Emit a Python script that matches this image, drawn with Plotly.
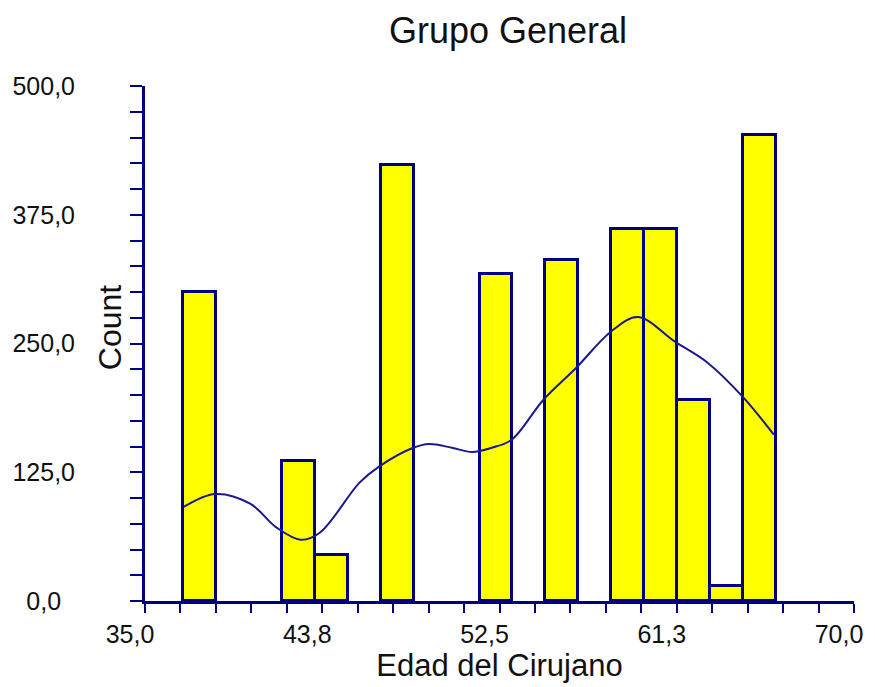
import plotly.graph_objects as go

# ---- data ----
bin_start = 36.9
bin_width = 1.624
counts = [300, 0, 0, 136, 45, 0, 423, 0, 0, 317, 0, 331, 0, 361, 361, 195, 15, 452]

curve_x = [36.91, 38.47, 40.19, 41.50, 42.69, 43.63, 45.59, 46.57, 48.21, 49.03,
           50.15, 51.15, 52.12, 53.10, 54.67, 56.29, 58.01, 59.34, 61.14, 62.77,
           64.49, 66.04]
curve_y = [91.3, 103.9, 94.5, 71.2, 59.5, 66.3, 114.9, 130.7, 148.5, 152.4,
           148.8, 144.7, 148.8, 156.6, 195.4, 226.5, 261.7, 275.7, 252.0, 231.4,
           198.6, 161.5]

x_tickvals = [35.0, 43.75, 52.5, 61.25, 70.0]
x_ticktext = ["35,0", "43,8", "52,5", "61,3", "70,0"]
y_tickvals = [0, 125, 250, 375, 500]
y_ticktext = ["0,0&nbsp;&nbsp;", "125,0", "250,0", "375,0", "500,0"]

NAVY = "#000080"
FONT = "Liberation Sans, Arial, sans-serif"
TXT = "#111111"

bar_x = [bin_start + (i + 0.5) * bin_width for i, c in enumerate(counts) if c > 0]
bar_y = [c for c in counts if c > 0]

fig = go.Figure()
fig.add_trace(go.Bar(
    x=bar_x, y=bar_y, width=bin_width,
    marker=dict(color="#FFFF00", line=dict(color=NAVY, width=3)),
    showlegend=False, hoverinfo="x+y",
))
fig.add_trace(go.Scatter(
    x=curve_x, y=curve_y, mode="lines",
    line=dict(color="#1a1a8c", width=2, shape="spline", smoothing=1.0),
    showlegend=False,
))

PW = 875 - 144 - 18
PH = 687 - 86 - 86

fig.update_layout(
    width=875, height=687,
    margin=dict(l=144, r=18, t=86, b=86),
    paper_bgcolor="white", plot_bgcolor="white",
    font=dict(family=FONT, color=TXT),
    bargap=0,
    title=dict(text="Grupo General", x=508 / 875, xanchor="center",
               y=1 - 30 / 687, yanchor="middle", xref="container", yref="container",
               font=dict(size=36, family=FONT, color=TXT)),
    xaxis=dict(
        range=[35, 70], tickvals=x_tickvals, ticktext=x_ticktext,
        showgrid=False, zeroline=False,
        showline=True, linecolor=NAVY, linewidth=3,
        ticks="outside", ticklen=9, tickwidth=2, tickcolor=NAVY,
        minor=dict(tick0=35, dtick=1.75, ticks="outside", ticklen=9, tickwidth=2,
                   tickcolor=NAVY, showgrid=False),
        tickfont=dict(size=25, family=FONT, color=TXT),
        ticklabelshift=-15,
        title=dict(text="Edad del Cirujano", font=dict(size=31, family=FONT, color=TXT),
                   standoff=4),
    ),
    yaxis=dict(
        range=[0, 500], tickvals=y_tickvals, ticktext=y_ticktext,
        showgrid=False, zeroline=False,
        showline=True, linecolor=NAVY, linewidth=3,
        ticks="outside", ticklen=12, tickwidth=2, tickcolor=NAVY,
        minor=dict(tick0=0, dtick=25, ticks="outside", ticklen=12, tickwidth=2,
                   tickcolor=NAVY, showgrid=False),
        tickfont=dict(size=25, family=FONT, color=TXT),
        ticklabelstandoff=50,
    ),
    annotations=[dict(text="Count", xref="paper", yref="paper",
                      x=(109 - 144) / PW, y=1 - (327 - 86) / PH,
                      xanchor="center", yanchor="middle",
                      showarrow=False, textangle=-90,
                      font=dict(size=32, family=FONT, color=TXT))],
)

fig.write_html("out.html")
